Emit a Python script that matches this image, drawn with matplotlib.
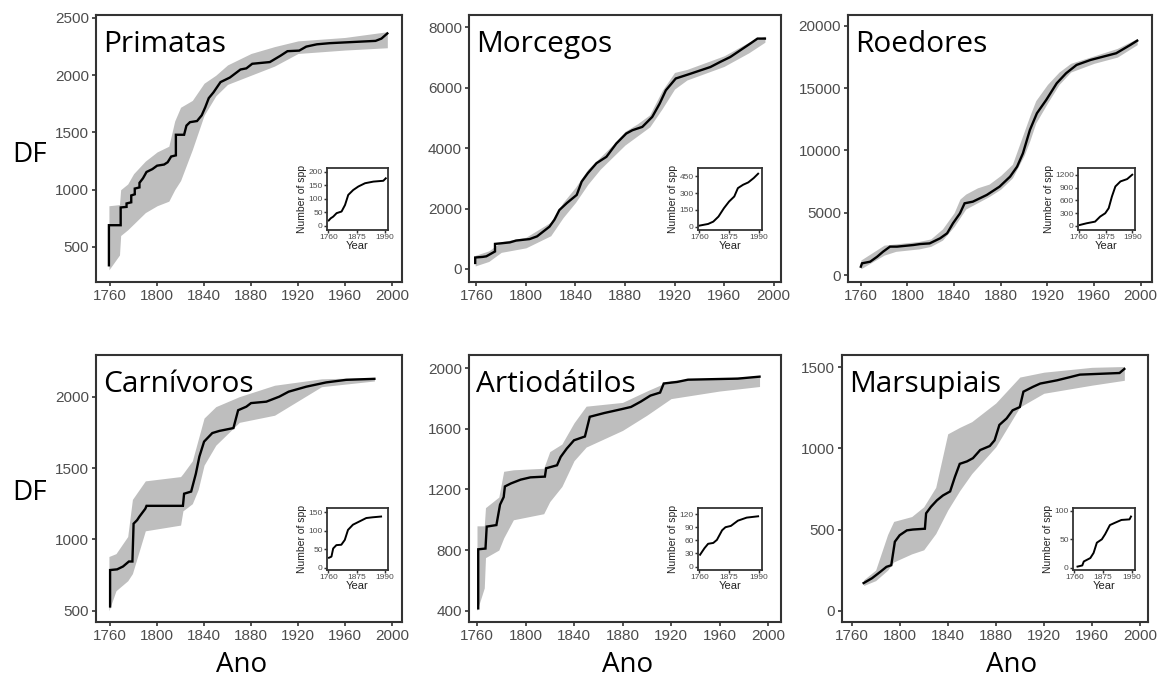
"""Cumulative DF through time for six mammal orders, with inset curves of
the number of species described per year."""

import numpy as np
import matplotlib.pyplot as plt

W, H = 1168, 684

# ---- data ----------------------------------------------------------------
prim_years = [1759, 1759, 1769, 1769, 1774, 1774, 1778, 1778, 1781, 1781,
              1785, 1785, 1788, 1791, 1796, 1800, 1806, 1809, 1812, 1816,
              1816, 1823, 1825, 1828, 1834, 1838, 1841, 1844, 1848, 1854,
              1862, 1871, 1876, 1881, 1896, 1905, 1911, 1921, 1927, 1936,
              1947, 1986, 1991, 1996]
prim_df = [340, 690, 690, 845, 850, 880, 890, 950, 960, 1010,
           1020, 1060, 1100, 1155, 1180, 1210, 1220, 1240, 1290, 1300,
           1480, 1480, 1560, 1590, 1600, 1650, 1720, 1800, 1850, 1940,
           1980, 2050, 2060, 2100, 2115, 2170, 2210, 2215, 2250, 2270,
           2280, 2300, 2320, 2365]
prim_band_years = [1759, 1768, 1769, 1775, 1780, 1790, 1800, 1810, 1815, 1820,
                   1830, 1840, 1850, 1860, 1880, 1900, 1920, 1960, 1996]
prim_low = [300, 430, 600, 650, 700, 800, 860, 900, 1000, 1080,
            1350, 1650, 1820, 1920, 2000, 2080, 2190, 2220, 2240]
prim_high = [860, 870, 1000, 1050, 1140, 1250, 1330, 1380, 1600, 1720,
             1780, 1930, 2000, 2090, 2190, 2250, 2300, 2330, 2380]
prim_ins_years = [1762, 1770, 1780, 1794, 1814, 1828, 1841, 1861, 1882, 1909,
                  1943, 1983, 1993]
prim_ins_spp = [20, 28, 34, 47, 53, 77, 114, 132, 145, 157, 163, 166, 175]

morc_years = [1759, 1759, 1765, 1768, 1775, 1775, 1780, 1787, 1792, 1803,
              1809, 1814, 1819, 1823, 1827, 1833, 1841, 1845, 1850, 1857,
              1865, 1873, 1881, 1886, 1894, 1902, 1908, 1913, 1921, 1933,
              1941, 1949, 1957, 1965, 1973, 1981, 1987, 1993]
morc_df = [200, 380, 400, 420, 580, 830, 850, 880, 940, 990,
           1080, 1240, 1400, 1630, 1950, 2180, 2450, 2890, 3170, 3500,
           3710, 4150, 4480, 4590, 4700, 5030, 5470, 5910, 6300, 6460,
           6570, 6680, 6850, 7010, 7230, 7450, 7620, 7620]
morc_band_years = [1759, 1770, 1780, 1800, 1820, 1830, 1840, 1850, 1860, 1870,
                   1880, 1890, 1900, 1910, 1920, 1930, 1940, 1960, 1980, 1993]
morc_low = [100, 250, 550, 700, 1100, 1700, 2200, 2800, 3300, 3700,
            4100, 4400, 4700, 5300, 5950, 6250, 6400, 6700, 7150, 7500]
morc_high = [450, 600, 900, 1050, 1550, 2200, 2700, 3300, 3700, 4100,
             4550, 4800, 5100, 5900, 6500, 6600, 6750, 7050, 7500, 7700]
morc_ins_years = [1760, 1794, 1814, 1834, 1855, 1875, 1895, 1909, 1929, 1949,
                  1970, 1987]
morc_ins_spp = [9, 24, 45, 90, 165, 225, 270, 345, 375, 396, 435, 474]

roed_years = [1760, 1761, 1768, 1774, 1779, 1785, 1791, 1805, 1811, 1819,
              1828, 1834, 1839, 1845, 1849, 1856, 1868, 1879, 1888, 1894,
              1899, 1905, 1911, 1919, 1928, 1936, 1945, 1957, 1968, 1979,
              1991, 1997]
roed_df = [670, 940, 1070, 1470, 1870, 2280, 2280, 2410, 2490, 2540,
           2950, 3350, 4150, 4950, 5760, 5890, 6430, 7100, 7900, 8700,
           9770, 11650, 12990, 14060, 15400, 16200, 16870, 17270, 17540, 17810,
           18470, 18820]
roed_band_years = [1760, 1780, 1790, 1810, 1820, 1830, 1840, 1845, 1850, 1860,
                   1870, 1880, 1890, 1900, 1905, 1910, 1920, 1930, 1940, 1960,
                   1980, 1997]
roed_low = [500, 1600, 1900, 2100, 2300, 2800, 3900, 4600, 5300, 5800,
            6300, 6900, 7800, 9600, 10800, 12200, 13800, 15300, 16300, 17000,
            17500, 18500]
roed_high = [1200, 2400, 2500, 2700, 2900, 3700, 5000, 6100, 6500, 7000,
             7300, 8000, 8900, 11500, 12800, 14000, 15300, 16300, 17000, 17600,
             18200, 19000]
roed_ins_years = [1763, 1792, 1829, 1851, 1873, 1888, 1902, 1917, 1939, 1968,
                  1990]
roed_ins_spp = [24, 63, 102, 220, 298, 416, 690, 925, 1043, 1098, 1200]

carn_years = [1760, 1760, 1766, 1771, 1776, 1779, 1780, 1783, 1785, 1790,
              1791, 1822, 1823, 1829, 1833, 1836, 1840, 1847, 1853, 1865,
              1869, 1876, 1880, 1893, 1904, 1912, 1927, 1944, 1961, 1985]
carn_df = [530, 785, 790, 810, 845, 845, 1110, 1135, 1160, 1215,
           1235, 1235, 1320, 1335, 1460, 1580, 1685, 1745, 1760, 1780,
           1905, 1930, 1955, 1965, 2000, 2035, 2070, 2100, 2118, 2125]
carn_band_years = [1759, 1765, 1775, 1779, 1790, 1820, 1822, 1830, 1835, 1840,
                   1850, 1870, 1900, 1940, 1985]
carn_low = [500, 640, 710, 760, 1060, 1100, 1200, 1250, 1350, 1520,
            1660, 1820, 1870, 2070, 2110]
carn_high = [880, 900, 1020, 1280, 1410, 1440, 1460, 1550, 1700, 1850,
             1930, 2000, 2080, 2125, 2135]
carn_ins_years = [1763, 1773, 1780, 1793, 1813, 1827, 1840, 1860, 1887, 1914,
                  1940, 1974]
carn_ins_spp = [27, 30, 52, 61, 62, 75, 102, 116, 125, 134, 136, 138]

arti_years = [1761, 1761, 1767, 1768, 1776, 1779, 1782, 1783, 1788, 1796,
              1804, 1816, 1817, 1826, 1829, 1834, 1840, 1849, 1853, 1865,
              1879, 1887, 1895, 1903, 1911, 1914, 1925, 1934, 1975, 1993]
arti_df = [415, 805, 810, 955, 965, 1100, 1150, 1220, 1240, 1265,
           1280, 1285, 1340, 1360, 1415, 1470, 1525, 1550, 1680, 1705,
           1730, 1745, 1780, 1820, 1840, 1900, 1910, 1925, 1932, 1945]
arti_band_years = [1760, 1766, 1767, 1778, 1782, 1790, 1815, 1820, 1830, 1840,
                   1850, 1880, 1900, 1920, 1960, 1993]
arti_low = [400, 550, 750, 800, 880, 1000, 1040, 1120, 1220, 1390,
            1480, 1590, 1690, 1800, 1850, 1880]
arti_high = [960, 960, 1080, 1150, 1320, 1330, 1340, 1450, 1500, 1640,
             1750, 1775, 1850, 1920, 1935, 1950]
arti_ins_years = [1763, 1780, 1794, 1814, 1828, 1848, 1861, 1882, 1909, 1943,
                  1987]
arti_ins_spp = [27, 42, 52, 54, 61, 83, 90, 93, 105, 112, 115]

mars_years = [1770, 1777, 1784, 1789, 1793, 1796, 1800, 1806, 1811, 1821,
              1822, 1826, 1831, 1836, 1842, 1846, 1850, 1856, 1861, 1867,
              1875, 1879, 1883, 1889, 1894, 1900, 1903, 1911, 1917, 1931,
              1942, 1950, 1983, 1987]
mars_df = [170, 200, 240, 270, 280, 425, 465, 495, 500, 505,
           600, 640, 680, 710, 735, 825, 905, 920, 940, 990,
           1015, 1050, 1145, 1185, 1235, 1255, 1350, 1380, 1400, 1420,
           1440, 1455, 1465, 1490]
mars_band_years = [1770, 1780, 1790, 1795, 1810, 1820, 1830, 1840, 1850, 1860,
                   1880, 1900, 1920, 1960, 1987]
mars_low = [155, 185, 250, 300, 350, 375, 475, 620, 740, 845,
            1010, 1255, 1340, 1390, 1420]
mars_high = [190, 250, 470, 550, 580, 640, 760, 1090, 1130, 1165,
             1280, 1440, 1470, 1500, 1505]
mars_ins_years = [1773, 1792, 1798, 1824, 1837, 1850, 1870, 1883, 1902, 1922,
                  1948, 1980, 1986]
mars_ins_spp = [2, 4, 11, 17, 26, 44, 50, 59, 75, 79, 84, 85, 90]

# ---- layout (pixels: left, right, top, bottom) ---------------------------
panels = [
    dict(name='Primatas', years=prim_years, df=prim_df,
         band=(prim_band_years, prim_low, prim_high),
         inset=(prim_ins_years, prim_ins_spp),
         box=(96, 402, 15, 282), xlim=(1748, 2008.5), ylim=(194, 2526),
         yticks=[500, 1000, 1500, 2000, 2500],
         ibox=(327, 388, 168, 230), iylim=(-15, 213),
         iyticks=[0, 50, 100, 150, 200]),
    dict(name='Morcegos', years=morc_years, df=morc_df,
         band=(morc_band_years, morc_low, morc_high),
         inset=(morc_ins_years, morc_ins_spp),
         box=(469, 781, 15, 282), xlim=(1754, 2006), ylim=(-430, 8400),
         yticks=[0, 2000, 4000, 6000, 8000],
         ibox=(698, 762, 168, 230), iylim=(-30, 525),
         iyticks=[0, 150, 300, 450]),
    dict(name='Roedores', years=roed_years, df=roed_df,
         band=(roed_band_years, roed_low, roed_high),
         inset=(roed_ins_years, roed_ins_spp),
         box=(848, 1152, 15, 282), xlim=(1749, 2009.7), ylim=(-560, 20880),
         yticks=[0, 5000, 10000, 15000, 20000],
         ibox=(1078, 1135, 168, 230), iylim=(-94, 1357),
         iyticks=[0, 300, 600, 900, 1200]),
    dict(name='Carnívoros', years=carn_years, df=carn_df,
         band=(carn_band_years, carn_low, carn_high),
         inset=(carn_ins_years, carn_ins_spp),
         box=(96, 402, 355, 622), xlim=(1748, 2008.5), ylim=(421, 2292),
         yticks=[500, 1000, 1500, 2000],
         ibox=(327, 388, 508, 570), iylim=(-6, 161),
         iyticks=[0, 50, 100, 150]),
    dict(name='Artiodátilos', years=arti_years, df=arti_df,
         band=(arti_band_years, arti_low, arti_high),
         inset=(arti_ins_years, arti_ins_spp),
         box=(469, 781, 355, 622), xlim=(1753.4, 2010.7), ylim=(325, 2088),
         yticks=[400, 800, 1200, 1600, 2000],
         ibox=(698, 762, 508, 570), iylim=(-8, 134),
         iyticks=[0, 30, 60, 90, 120]),
    dict(name='Marsupiais', years=mars_years, df=mars_df,
         band=(mars_band_years, mars_low, mars_high),
         inset=(mars_ins_years, mars_ins_spp),
         box=(842, 1148, 355, 622), xlim=(1752, 2006.7), ylim=(-70, 1576),
         yticks=[0, 500, 1000, 1500],
         ibox=(1073, 1135, 508, 570), iylim=(-4, 105),
         iyticks=[0, 50, 100]),
]

FRAME = '#333333'
TICKLAB = '#4d4d4d'
GREY = '#bebebe'
TITLE_FONT = ['Open Sans', 'DejaVu Sans']
TICK_FONT = ['Liberation Sans', 'DejaVu Sans']


def px_rect(box):
    left, right, top, bottom = box
    return [left / W, 1 - bottom / H, (right - left) / W, (bottom - top) / H]


def style_axes(ax, lw, labelsize, length, pad):
    for spine in ax.spines.values():
        spine.set_color(FRAME)
        spine.set_linewidth(lw)
    ax.tick_params(colors=FRAME, labelcolor=TICKLAB, labelsize=labelsize,
                   length=length, width=lw * 0.8, pad=pad)
    for lab in ax.get_xticklabels() + ax.get_yticklabels():
        lab.set_fontfamily(TICK_FONT)


fig = plt.figure(figsize=(W / 100, H / 100), dpi=100)

for p in panels:
    ax = fig.add_axes(px_rect(p['box']))
    band_years, low, high = p['band']
    ax.fill_between(band_years, low, high, color=GREY, lw=0)
    ax.plot(p['years'], p['df'], color='black', lw=1.7,
            solid_joinstyle='miter')
    ax.set_xlim(*p['xlim'])
    ax.set_ylim(*p['ylim'])
    ax.set_xticks([1760, 1800, 1840, 1880, 1920, 1960, 2000])
    ax.set_yticks(p['yticks'])
    style_axes(ax, 1.5, 11, 3, 2)
    ax.text(0.022, 0.945, p['name'], transform=ax.transAxes, va='top',
            ha='left', fontsize=21.5, family=TITLE_FONT, color='black')

    ins = fig.add_axes(px_rect(p['ibox']))
    ins.plot(p['inset'][0], p['inset'][1], color='black', lw=1.4)
    ins.set_xlim(1755, 2002)
    ins.set_ylim(*p['iylim'])
    ins.set_xticks([1760, 1875, 1990])
    ins.set_yticks(p['iyticks'])
    style_axes(ins, 1.3, 6, 2, 1)
    ins.set_xlabel('Year', fontsize=8, labelpad=0, family=TICK_FONT,
                   color='#222222')
    ins.set_ylabel('Number of spp', fontsize=7.5, labelpad=1,
                   family=TICK_FONT, color='#222222')

for y in (155, 493):
    fig.text(30 / W, 1 - y / H, 'DF', ha='center', va='center',
             fontsize=20, family=TITLE_FONT)
for x in (242, 628, 1012):
    fig.text(x / W, 1 - 665 / H, 'Ano', ha='center', va='center',
             fontsize=20, family=TITLE_FONT)

fig.savefig('out.png', dpi=100)
